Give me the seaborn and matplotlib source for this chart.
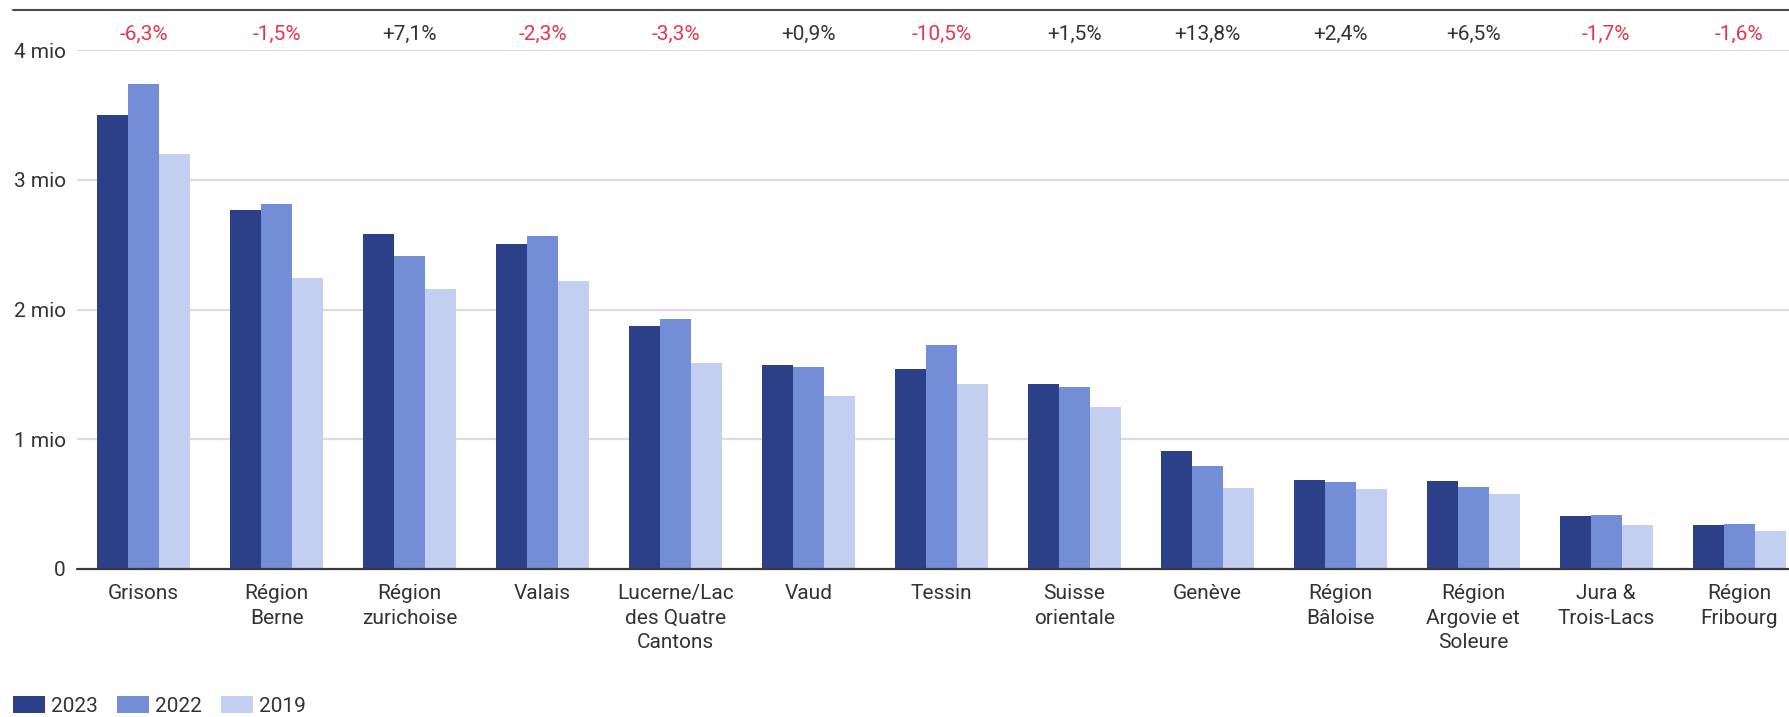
import pandas as pd
import matplotlib.pyplot as plt
import seaborn as sns
from matplotlib.lines import Line2D

# Regions and overnight stays (millions)
regions = [
    "Grisons", "Région\nBerne", "Région\nzurichoise", "Valais",
    "Lucerne/Lac\ndes Quatre\nCantons", "Vaud", "Tessin", "Suisse\norientale",
    "Genève", "Région\nBâloise", "Région\nArgovie et\nSoleure", "Jura &\nTrois-Lacs",
    "Région\nFribourg",
]
values_2023 = [3.50, 2.77, 2.58, 2.505, 1.87, 1.57, 1.545, 1.425, 0.909, 0.688, 0.676, 0.410, 0.339]
values_2022 = [3.74, 2.815, 2.41, 2.565, 1.93, 1.556, 1.727, 1.404, 0.797, 0.672, 0.635, 0.417, 0.344]
values_2019 = [3.20, 2.24, 2.16, 2.22, 1.59, 1.33, 1.425, 1.25, 0.622, 0.617, 0.580, 0.339, 0.294]
change_labels = ["-6,3%", "-1,5%", "+7,1%", "-2,3%", "-3,3%", "+0,9%", "-10,5%",
                 "+1,5%", "+13,8%", "+2,4%", "+6,5%", "-1,7%", "-1,6%"]
years = ["2023", "2022", "2019"]
y_ticks = [0, 1, 2, 3, 4]
y_tick_labels = ["0", "1 mio", "2 mio", "3 mio", "4 mio"]

colors = ["#2B4089", "#738DD6", "#C3CFF1"]
RED = "#E6364D"
TEXT = "#333333"

# long format for seaborn
df = pd.DataFrame({
    "region": regions * 3,
    "year": [y for y in years for _ in regions],
    "value": values_2023 + values_2022 + values_2019,
})

sns.set_theme(style="white")
plt.rcParams["font.family"] = ["Roboto", "DejaVu Sans"]

W, H = 1789, 717
fig = plt.figure(figsize=(W / 100, H / 100), dpi=100)
ax = fig.add_axes([77 / W, 148 / H, 1 - 77 / W, (569 - 50) / H])

sns.barplot(
    data=df, x="region", y="value", hue="year",
    hue_order=years, palette=colors, width=0.7,
    errorbar=None, ax=ax, saturation=1, zorder=2, linewidth=0,
)

ax.set_xlim(-0.502, 12.374)
ax.set_ylim(0, 4)
ax.set_xlabel("")
ax.set_ylabel("")

# gridlines and baseline
for v in y_ticks[1:]:
    ax.axhline(v, color="#DCDCDC", lw=1.6, zorder=1)
ax.axhline(0, color="#3A3A3A", lw=1.6, zorder=3, clip_on=False)
for s in ax.spines.values():
    s.set_visible(False)

ax.set_yticks(y_ticks)
ax.set_yticklabels(y_tick_labels)
ax.tick_params(axis="y", length=0, pad=8, labelsize=15, labelcolor=TEXT)
ax.tick_params(axis="x", length=0, pad=11, labelsize=15, labelcolor=TEXT)
for lbl in ax.get_xticklabels():
    lbl.set_linespacing(1.35)

# change labels above each group
for i, txt in enumerate(change_labels):
    ax.text(i, 1.031, txt, transform=ax.get_xaxis_transform(),
            ha="center", va="center", fontsize=15,
            color=RED if txt.startswith("-") else TEXT)

# dark rule across the top
fig.add_artist(Line2D([13 / W, 1], [1 - 9.5 / H] * 2, transform=fig.transFigure,
                      color="#4A4A4A", lw=1.5))

# legend bottom-left
ax.legend_.remove()
handles, labels = ax.get_legend_handles_labels()
leg = fig.legend(
    handles[:3], years, loc="center left", bbox_to_anchor=(13 / W, 11 / H),
    ncol=3, frameon=False, fontsize=15, handlelength=1.54, handleheight=0.87,
    handletextpad=0.3, columnspacing=0.9, borderpad=0, borderaxespad=0,
)
for t in leg.get_texts():
    t.set_color(TEXT)

fig.savefig("out.png", dpi=100, facecolor="white")
